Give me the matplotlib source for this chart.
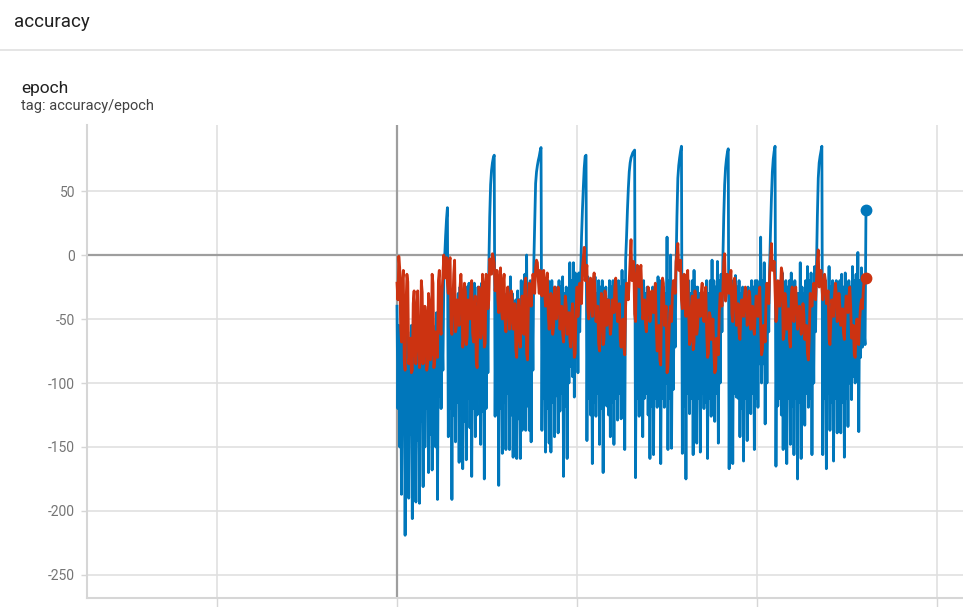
import matplotlib
matplotlib.use("Agg")
import matplotlib.pyplot as plt
from matplotlib.lines import Line2D

plt.rcParams["font.family"] = ["Roboto", "DejaVu Sans"]

# accuracy/epoch values, one value every half step
STEP = 0.5

blue_run = [
    # block 0
    -40, -120, -55, -150, -60, -187, -70, -135, -65, -219,
    -85, -150, -60, -190, -75, -140, -55, -206, -70, -160,
    -80, -193, -60, -145, -75, -194, -55, -130, -60, -181,
    -50, -150, -70, -120, -55, -170, -60, -140, -45, -168,
    -55, -120, -60, -150, -45, -191, -50, -110, -40, -120,
    -56, -90, -20, -1, 15, 28, 37,
    # block 1
    -142, -40, -120,
    -30, -191, -35, -125, -30, -146, -45, -115, -30, -162,
    -25, -125, -35, -167, -30, -130, -35, -160, -25, -112,
    -22, -135, -40, -173, -30, -120, -22, -142, -35, -125,
    -25, -112, -30, -148, -22, -122, -35, -175, -25, -120,
    -30, -92, -10, 30, 55, 66, 72, 76, 78,
    # block 2
    -126,
    -12, -112, -25, -180, -22, -120, -30, -155, -40, -115,
    -32, -152, -30, -108, -25, -152, -17, -125, -30, -158,
    -45, -118, -35, -159, -28, -128, -35, -159, -20, -137,
    -30, -112, -15, -137, 0, -118, -25, -137, -20, -146,
    -22, -90, -6, 25, 56, 65, 70, 74, 77, 81, 84,
    # block 3
    -137, -20, -112, -30, -154, -25, -120, -20, -147,
    -30, -154, -20, -115, -35, -142, -25, -110, -30, -139,
    -20, -122, -25, -108, -17, -173, -30, -118, -25, -159,
    -30, -100, -6, -87, -20, -95, -6, -111, -14, -80,
    -25, -92, -14, -60, -20, 14, 35, 53, 68, 77, 78,
    # block 4
    -145, -17, -112, -20, -125, -25, -163, -20, -115,
    -17, -126, -30, -108, -20, -148, -25, -120, -20, -170,
    -30, -112, -25, -118, -35, -125, -20, -142, -25, -115,
    -20, -148, -30, -112, -22, -129, -20, -108, -25, -128,
    -12, -118, -20, -152, -4, 14, 35, 52, 65, 72, 76, 78, 80, 81, 82,
    # block 5
    -174, -14, -112, -20, -126,
    -30, -108, -25, -142, -20, -112, -30, -108, -25, -125,
    -30, -159, -35, -118, -25, -156, -30, -112, -25, -119,
    -17, -115, -20, -163, -40, -112, -25, -119, -30, -100,
    14, -152, -20, -112, 0, -151, -30, -105, -25, -72,
    -10, 30, 60, 70, 76, 81, 85,
    # block 6
    -155, -22, -118,
    -30, -175, -22, -108, -20, -124, -30, -112, -20, -156,
    -12, -118, -25, -147, -25, -112, -30, -154, -30, -108,
    -35, -120, -35, -115, -20, -159, -30, -112, -20, -126,
    -4, -115, -20, -130, -25, -108, -5, -147, -20, -100,
    -15, -60, -5, 30, 55, 68, 75, 80, 83,
    # block 7
    -167,
    -25, -115, -20, -163, -25, -108, -16, -111, -25, -112,
    -20, -142, -30, -120, -25, -161, -30, -112, -30, -145,
    -25, -115, -30, -124, -20, -108, -25, -152, -20, -112,
    -20, -119, -25, -85, 14, -100, -20, -85, -6, -132,
    -35, -100, -30, -60, -10, 20, 45, 65, 75, 81, 85,
    # block 8
    -165, -25, -118, -25, -112, -20, -125, -14, -152,
    -25, -115, -20, -163, -25, -112, -20, -148, -14, -118,
    -25, -156, -20, -112, -30, -175, -30, -115, -6, -159,
    -25, -118, -30, -133, -20, -108, -9, -119, -20, -112,
    -14, -156, -25, -100, -9, -60, -10, 30, 60, 72, 77, 81, 85,
    # block 9
    -156, -25, -112, -20, -167, -30, -108,
    -9, -137, -25, -115, -20, -161, -30, -112, -20, -139,
    -25, -108, -20, -139, -15, -115, -25, -158, -14, -112,
    -25, -134, -20, -100, -25, -113, -9, -95, -20, -100,
    -15, -90, 2, -138, -20, -80, -10, -72, -30, -60, -70, 35,
]

red_run = [
    -22, -35, -1, -10, -56, -68, -20, -12, -82, -90, -40, -15, -21, -85, -79, -65, -92, -90, -38, -28,
    -77, -85, -40, -28, -70, -88, -82, -20, -29, -85, -77, -40, -48, -90, -85, -30, -38, -82, -77, -15,
    -22, -88, -82, -60, -72, -80, -20, -12, -56, -62, -30, -15, 0, -18, -9, -2, -22, -30, -6, -2,
    -56, -62, -40, -15, -4, -60, -56, -35, -46, -55, -25, -15, -30, -72, -66, -22, -29, -70, -64, -35,
    -43, -50, -27, -20, -61, -68, -40, -32, -82, -88, -45, -25, -30, -65, -60, -15, -22, -72, -69, -15,
    -20, -42, -35, -3, -5, -15, 1, -2, -6, -28, -20, -12, -35, -45, -17, -10, -43, -50, -22, -15,
    -51, -60, -40, -25, -32, -58, -51, -28, -35, -58, -50, -38, -74, -80, -46, -35, -64, -72, -43, -32,
    -56, -62, -25, -18, -77, -82, -40, -22, -27, -40, -25, -15, -20, -30, -10, -4, -6, -20, -30, -12,
    -17, -32, -22, -12, -30, -40, -20, -14, -46, -58, -51, -30, -35, -62, -56, -25, -30, -50, -43, -25,
    -32, -58, -50, -40, -61, -68, -46, -32, -40, -62, -55, -45, -66, -72, -46, -38, -60, -80, -77, -40,
    -25, -48, -40, -22, -30, -38, -10, -2, 6, -20, -14, -8, -43, -50, -25, -18, -40, -48, -20, -14,
    -30, -52, -48, -40, -69, -75, -50, -30, -35, -70, -66, -28, -32, -55, -46, -35, -50, -62, -56, -35,
    -40, -45, -25, -18, -40, -52, -46, -38, -66, -72, -60, -50, -72, -78, -40, -22, -25, -35, -20, -3,
    12, -20, -9, -5, -46, -52, -17, -8, -14, -25, -14, -8, -30, -50, -46, -35, -53, -60, -40, -25,
    -32, -52, -46, -28, -35, -45, -30, -22, -56, -75, -70, -55, -82, -86, -32, -18, -22, -55, -50, -40,
    -92, -88, -66, -45, -40, -52, -30, -20, -20, -30, -5, 0, 9, -12, -9, -4, -35, -42, -22, -15,
    -40, -48, -17, -12, -45, -70, -66, -40, -32, -74, -69, -28, -35, -62, -56, -35, -40, -48, -30, -22,
    -46, -52, -32, -25, -60, -80, -77, -45, -48, -66, -61, -50, -75, -92, -90, -65, -72, -78, -46, -30,
    -32, -40, -27, -5, 1, -36, -30, -15, -22, -30, -20, -12, -46, -52, -30, -18, -25, -55, -48, -38,
    -61, -66, -46, -35, -40, -48, -32, -25, -38, -55, -48, -28, -32, -58, -50, -40, -56, -62, -46, -32,
    -40, -48, -32, -25, -55, -78, -74, -55, -61, -68, -35, -22, -30, -38, -15, -2, 9, -12, -10, -5,
    -30, -52, -46, -20, -25, -40, -27, -10, -14, -66, -61, -30, -38, -58, -50, -42, -66, -72, -32, -25,
    -46, -52, -30, -25, -40, -58, -53, -40, -46, -62, -56, -38, -46, -66, -60, -55, -77, -82, -66, -30,
    -32, -40, -30, -22, -27, -35, -20, -5, 4, -25, -20, -12, -25, -35, -27, -15, -20, -38, -32, -28,
    -66, -70, -51, -35, -40, -48, -32, -22, -30, -52, -46, -30, -40, -55, -48, -42, -61, -66, -46, -32,
    -40, -45, -32, -25, -40, -65, -60, -55, -78, -80, -60, -50, -66, -70, -51, -40, -35, -42, -28, -20,
    -22, -18,
]

y_ticks = [50, 0, -50, -100, -150, -200, -250]
y_tick_labels = ["50", "0", "-50", "-100", "-150", "-200", "-250"]
x_ticks = [-100, 0, 100, 200, 300]

BLUE = "#0077bb"
RED = "#cc3311"
GRID = "#e0e0e0"

W, H = 963, 607
fig = plt.figure(figsize=(W / 100, H / 100), dpi=100)

# header of the tensorboard card
fig.text(14 / W, 1 - 22 / H, "accuracy", fontsize=13.5, color="#212121", va="center")
fig.add_artist(Line2D([0, 1], [1 - 50 / H] * 2, color=GRID, lw=1.2))
fig.text(21 / W, 1 - 88 / H, "epoch", fontsize=12.5, color="#212121", va="center")
fig.text(21 / W, 1 - 106 / H, "tag: accuracy/epoch", fontsize=10.5, color="#424242", va="center")

ax = fig.add_axes([87 / W, (H - 598) / H, (W - 87) / W, (598 - 125) / H])

xb = [i * STEP for i in range(len(blue_run))]
xr = [i * STEP for i in range(len(red_run))]
ax.plot(xb, blue_run, color=BLUE, lw=2.0, solid_joinstyle="round", zorder=3)
ax.plot(xr, red_run, color=RED, lw=2.0, solid_joinstyle="round", zorder=4)
ax.plot(xb[-1], blue_run[-1], "o", color=BLUE, ms=7.5, zorder=5)
ax.plot(xr[-1], red_run[-1], "o", color=RED, ms=7.5, zorder=5)

ax.axhline(0, color="#9e9e9e", lw=1.6, zorder=2)
ax.axvline(0, color="#9e9e9e", lw=1.6, zorder=2)

ax.set_xlim(-172.2, 314.4)
ax.set_ylim(-268, 101.6)
ax.set_yticks(y_ticks)
ax.set_yticklabels(y_tick_labels)
ax.set_xticks(x_ticks)
ax.grid(True, color=GRID, lw=1.2)
ax.set_axisbelow(True)

for side in ("top", "right"):
    ax.spines[side].set_visible(False)
for side in ("left", "bottom"):
    ax.spines[side].set_color("#d6d6d6")
    ax.spines[side].set_linewidth(1.5)

ax.tick_params(axis="y", length=4.5, width=1, color="#d6d6d6",
               labelsize=10, labelcolor="#757575", pad=4)
ax.tick_params(axis="x", length=7, width=1, color="#d6d6d6", labelbottom=False)

fig.savefig("out.png", dpi=100)
